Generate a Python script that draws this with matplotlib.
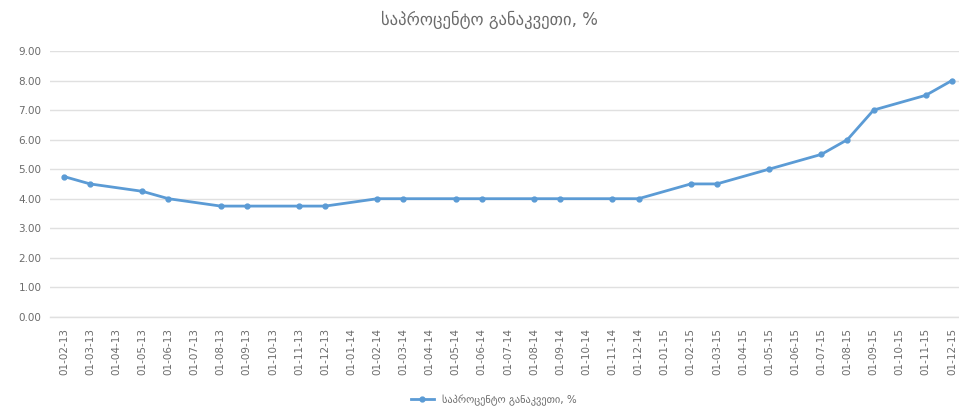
import matplotlib
matplotlib.use('Agg')
import matplotlib.pyplot as plt
import pandas as pd

# monthly axis from 01-02-13 to 01-12-15
tick_months = pd.period_range("2013-02", "2015-12", freq="M")
tick_labels = [p.strftime("01-%m-%y") for p in tick_months]

# observation dates (dd-mm-yy) and refinancing rate, %
dates = ["01-02-13", "01-03-13", "01-05-13", "01-06-13", "01-08-13", "01-09-13",
         "01-11-13", "01-12-13", "01-02-14", "01-03-14", "01-05-14", "01-06-14",
         "01-08-14", "01-09-14", "01-11-14", "01-12-14", "01-02-15", "01-03-15",
         "01-05-15", "01-07-15", "01-08-15", "01-09-15", "01-11-15", "01-12-15"]
rates = [4.75, 4.5, 4.25, 4.0, 3.75, 3.75,
         3.75, 3.75, 4.0, 4.0, 4.0, 4.0,
         4.0, 4.0, 4.0, 4.0, 4.5, 4.5,
         5.0, 5.5, 6.0, 7.0, 7.5, 8.0]

title = "საპროცენტო განაკვეთი, %"
series_name = "საპროცენტო განაკვეთი, %"

plt.rcParams['font.family'] = ['DejaVu Sans']
grey = '#6b6b6b'
blue = '#5B9BD5'

first = tick_months[0]
x = [(pd.Period(pd.to_datetime(d, format="%d-%m-%y"), freq="M") - first).n for d in dates]
ticks = list(range(len(tick_months)))

fig = plt.figure(figsize=(9.59, 4.11), dpi=100)
ax = fig.add_axes([0.052, 0.229, 0.948, 0.647])

ax.plot(x, rates, color=blue, lw=2.0, marker='o', ms=3.5, label=series_name)

ax.set_ylim(0, 9)
ax.set_yticks(range(0, 10))
ax.set_yticklabels(["%.2f" % v for v in range(0, 10)])
ax.set_xlim(-0.54, 34.27)
ax.set_xticks(ticks)
ax.set_xticklabels(tick_labels, rotation=90)

ax.grid(axis='y', color='#E0E0E0', lw=1)
ax.axhline(0, color='#E0E0E0', lw=1, clip_on=False, zorder=0.5)
ax.set_axisbelow(True)
for s in ax.spines.values():
    s.set_visible(False)
ax.tick_params(length=0, colors=grey, labelsize=7.5, pad=6)
ax.tick_params(axis='x', pad=8)

fig.text(0.51, 0.952, title, ha='center', va='center', fontsize=12, color=grey)

fig.legend(loc='center', bbox_to_anchor=(0.515, 0.027), frameon=False,
           fontsize=7.5, labelcolor=grey, handlelength=2.2, borderaxespad=0)

plt.savefig("out.png", dpi=100)
